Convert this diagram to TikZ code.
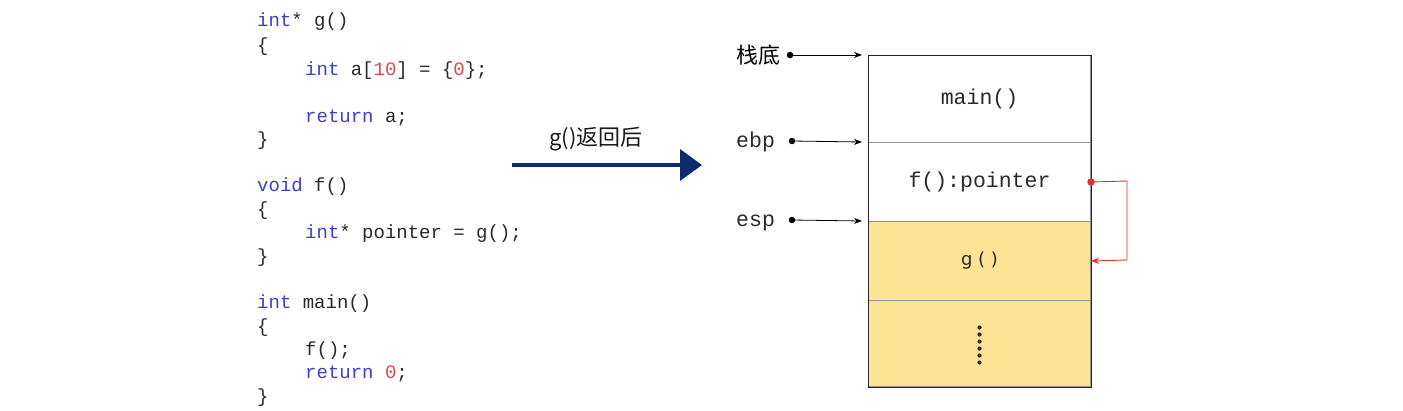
\documentclass[tikz,border=0pt]{standalone}
\usepackage{fontspec}
\setmainfont{Liberation Sans}
\setmonofont{Liberation Mono}
\newfontfamily\cjk{Noto Sans CJK SC}
\newfontfamily\plainsans{DejaVu Sans}
\usetikzlibrary{arrows.meta,calc}
\definecolor{kw}{HTML}{4040C8}
\definecolor{num}{HTML}{E04848}
\definecolor{txt}{HTML}{2A2A2A}
\definecolor{navy}{HTML}{0E2C6C}
\definecolor{stackfill}{HTML}{FDE394}
\definecolor{redline}{HTML}{E8302A}
\tikzset{
  code/.style={anchor=base west, inner sep=0pt, font=\ttfamily\fontsize{19}{19}\selectfont, text=txt},
  cell/.style={draw=gray!85, line width=1pt, minimum width=222pt, anchor=north west, inner sep=0pt,
    font=\ttfamily\fontsize{21.5}{21.5}\selectfont, text=txt},
  reglabel/.style={anchor=base west, inner sep=0pt, font=\ttfamily\fontsize{21.5}{21.5}\selectfont, text=txt},
  ptr/.style={line width=0.8pt, -{Stealth[length=8pt,width=6pt]}},
  dotmark/.style={circle, fill=black, inner sep=0pt, minimum size=6.5pt},
}
\begin{document}
\begin{tikzpicture}[x=1pt,y=-1pt]
\useasboundingbox[fill=white] (0,0) rectangle (1403,410);
% code
\node[code] (c1) at (257,26) {\textcolor{kw}{int}* g()};
\node[code] (c2) at (257,51) {\{};
\node[code] (c3) at (305,75) {\textcolor{kw}{int} a[\textcolor{num}{10}] = \{\textcolor{num}{0}\};};
\node[code] (c5) at (305,122) {\textcolor{kw}{return} a;};
\node[code] (c6) at (257,145) {\}};
\node[code] (c8) at (257,191) {\textcolor{kw}{void} f()};
\node[code] (c9) at (257,215) {\{};
\node[code] (c10) at (305,238) {\textcolor{kw}{int}* pointer = g();};
\node[code] (c11) at (257,262) {\}};
\node[code] (c13) at (257,308) {\textcolor{kw}{int} main()};
\node[code] (c14) at (257,332) {\{};
\node[code] (c15) at (305,355) {f();};
\node[code] (c16) at (305,378) {\textcolor{kw}{return} \textcolor{num}{0};};
\node[code] (c17) at (257,402) {\}};
% big arrow
\coordinate (a1) at (512,165);
\coordinate (a2) at (702,165);
\draw[navy, line width=4pt, -{Triangle[length=22pt,width=31pt]}] (a1) -- (a2);
\node[inner sep=0pt, font=\cjk\fontsize{22}{22}\selectfont, text=black!90] (al) at (596,139) {g()返回后};
% stack cells
\node[cell, minimum height=87pt] (m) at (868,55) {main()};
\node[cell, minimum height=79pt] (f) at (868,142) {f():pointer};
\node[cell, minimum height=79pt, fill=stackfill, font=\plainsans\fontsize{18}{18}\selectfont] (g) at (868,221) {g ( )};
\node[cell, minimum height=86pt, fill=stackfill] (d) at (868,300) {};
\draw[line width=1pt, black!85] (m.north west) rectangle (d.south east);
\foreach \i in {0,...,5} \fill[black!85] ($(d.center)+(0,-16+\i*7)$) circle (2.1pt);
% register labels
\node[anchor=base west, inner sep=0pt, font=\cjk\fontsize{22}{22}\selectfont, text=black] (sb) at (736,63) {栈底};
\node[reglabel] (ebp) at (736,147) {ebp};
\node[reglabel] (esp) at (736,226) {esp};
\node[dotmark] (sbd) at (790,55) {};
\node[dotmark] (ebpd) at (792,141) {};
\node[dotmark] (espd) at (792,220) {};
\draw[ptr] (sbd.center) -- ($(m.north west)+(-6,0)$);
\draw[ptr] (ebpd.center) -- ($(f.north west)+(-6,0)$);
\draw[ptr] (espd.center) -- ($(g.north west)+(-6,0)$);
% red pointer
\node[circle, fill=redline, inner sep=0pt, minimum size=7.5pt] (rp) at (f.east) {};
\coordinate (r1) at (1127,181);
\coordinate (r2) at (1127,260);
\draw[redline, line width=0.9pt, -{Stealth[length=8pt,width=6pt]}] (rp.center) -- (r1) -- (r2) -- (g.east);
\end{tikzpicture}
\end{document}
